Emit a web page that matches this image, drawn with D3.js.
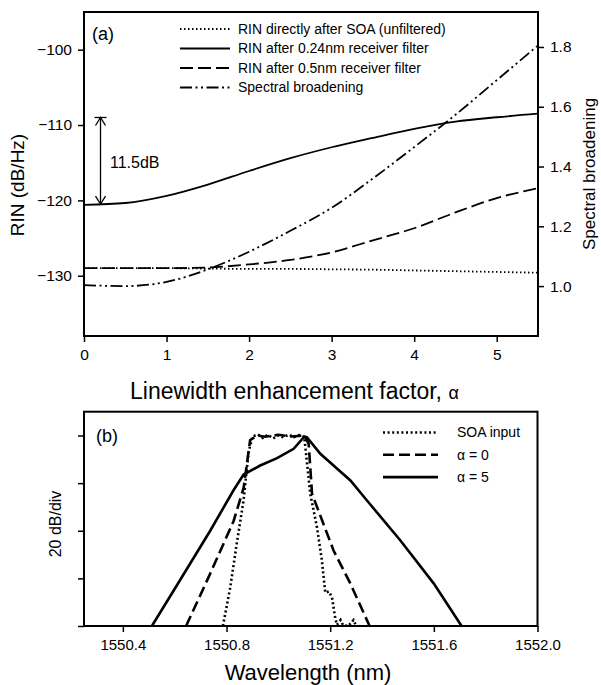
<!DOCTYPE html>
<html>
<head>
<meta charset="utf-8">
<script src="https://cdn.jsdelivr.net/npm/d3@7"></script>
<style>
  body { margin: 0; background: #fff; }
  svg { font-family: "Liberation Sans", Arial, sans-serif; }
</style>
</head>
<body>
<div id="chart"></div>
<script>
// panel (a): RIN vs linewidth enhancement factor
const alpha = [0, 0.5, 1, 1.5, 2, 2.5, 3, 3.5, 4, 4.5, 5, 5.5];
const rinUnfiltered = [-129.0, -129.0, -129.0, -129.05, -129.1, -129.1, -129.15, -129.2, -129.3, -129.4, -129.5, -129.6];
const rin024 = [-120.6, -120.35, -119.4, -117.9, -116.1, -114.4, -112.95, -111.7, -110.5, -109.55, -108.97, -108.5];
const rin05 = [-129.0, -129.0, -129.0, -128.9, -128.5, -127.9, -126.9, -125.3, -123.7, -121.6, -119.7, -118.4];
const broadening = [1.003, 1.0, 1.014, 1.056, 1.115, 1.185, 1.262, 1.36, 1.465, 1.573, 1.689, 1.805];

const xTicksA = [0, 1, 2, 3, 4, 5];
const rinTicks = [-130, -120, -110, -100];
const brTicks = [1.0, 1.2, 1.4, 1.6, 1.8];
const legendA = ["RIN directly after SOA (unfiltered)", "RIN after 0.24nm receiver filter", "RIN after 0.5nm receiver filter", "Spectral broadening"];

// 11.5dB annotation (alpha, rin from, rin to)
const gapAlpha = 0.2, gapFrom = -120.5, gapTo = -109;

// panel (b): spectra
const wlInput = [1550.786, 1550.814, 1550.84, 1550.866, 1550.885, 1550.90, 1550.92, 1550.94, 1550.96, 1550.98, 1551.00, 1551.02, 1551.04, 1551.06, 1551.08, 1551.10, 1551.123, 1551.149, 1551.168, 1551.181, 1551.195, 1551.207, 1551.22, 1551.226, 1551.24, 1551.25, 1551.27, 1551.29, 1551.30];
const dbInput = [0, 16, 35, 53, 73, 79.5, 80.5, 79, 80.3, 78.8, 80, 79.2, 80.4, 79.3, 80.2, 79.5, 55.5, 41.5, 27.5, 14, 14.5, 12, 3, 0.5, 2.5, 0.3, 0, 2.5, 0];
const wlA0 = [1550.644, 1550.737, 1550.827, 1550.866, 1550.891, 1550.917, 1550.95, 1551.0, 1551.05, 1551.10, 1551.117, 1551.13, 1551.213, 1551.278, 1551.352];
const dbA0 = [0, 22, 44, 58, 78, 80, 79.5, 80.3, 79.6, 80, 76.5, 55.5, 31.7, 17.8, 0];
const wlA5 = [1550.512, 1550.608, 1550.737, 1550.827, 1550.866, 1550.93, 1550.995, 1551.059, 1551.10, 1551.11, 1551.162, 1551.213, 1551.278, 1551.342, 1551.471, 1551.60, 1551.707];
const dbA5 = [0, 17, 40, 57, 63.6, 67.4, 70.5, 74.4, 79.5, 79.3, 72.3, 67.4, 61.1, 52.7, 35.9, 17.8, 0];

const wlTicks = [1550.4, 1550.8, 1551.2, 1551.6, 1552.0];
const dbTicks = [0, 20, 40, 60, 80];
const legendB = ["SOA input", "\u03b1 = 0", "\u03b1 = 5"];

const width = 601, height = 685;
const svg = d3.select("#chart").append("svg").attr("width", width).attr("height", height);

// ---------- panel (a) ----------
const a = {left: 84, right: 538, top: 12, bottom: 336};
const xA = d3.scaleLinear().domain([0, 5.5]).range([a.left, a.right]);
const yRin = d3.scaleLinear().domain([-138, -95]).range([a.bottom, a.top]);
const yBr = d3.scaleLinear().domain([0.833, 1.917]).range([a.bottom, a.top]);

function styleAxis(g, size) {
    g.select(".domain").remove();
    g.selectAll("line").attr("stroke", "#000").attr("stroke-width", 1.5);
    g.selectAll("text").attr("font-size", size).attr("fill", "#000");
}

svg.append("g").attr("transform", `translate(0,${a.bottom})`)
    .call(d3.axisBottom(xA).tickValues(xTicksA).tickFormat(d3.format("d")).tickSize(6).tickPadding(7))
    .call(g => styleAxis(g, 15.5));
svg.append("g").attr("transform", `translate(${a.left},0)`)
    .call(d3.axisLeft(yRin).tickValues(rinTicks).tickSize(6).tickPadding(6))
    .call(g => styleAxis(g, 15.5));
svg.append("g").attr("transform", `translate(${a.right},0)`)
    .call(d3.axisRight(yBr).tickValues(brTicks).tickFormat(d3.format(".1f")).tickSize(6).tickPadding(6))
    .call(g => styleAxis(g, 15.5));

svg.append("rect").attr("x", a.left).attr("y", a.top).attr("width", a.right - a.left).attr("height", a.bottom - a.top)
    .attr("fill", "none").attr("stroke", "#000").attr("stroke-width", 2);

const dashA = ["1.5,2.5", null, "13,5", "12,3.5,2,3.5,2,3.5"];
const seriesA = [
    {vals: rinUnfiltered, y: yRin},
    {vals: rin024, y: yRin},
    {vals: rin05, y: yRin},
    {vals: broadening, y: yBr}
];
seriesA.forEach((s, i) => {
    const line = d3.line().x((d, j) => xA(alpha[j])).y(d => s.y(d)).curve(d3.curveMonotoneX);
    svg.append("path").datum(s.vals).attr("d", line)
        .attr("fill", "none").attr("stroke", "#000").attr("stroke-width", 1.8)
        .attr("stroke-dasharray", dashA[i]);
});

// legend (a)
legendA.forEach((t, i) => {
    const ly = 29 + i * 19.5;
    svg.append("line").attr("x1", 180).attr("x2", 230).attr("y1", ly).attr("y2", ly)
        .attr("stroke", "#000").attr("stroke-width", 1.8).attr("stroke-dasharray", dashA[i]);
    svg.append("text").attr("x", 238).attr("y", ly).attr("dy", "0.35em").attr("font-size", 14).text(t);
});

svg.append("text").attr("x", 92).attr("y", 40).attr("font-size", 18).text("(a)");

// 11.5dB arrow
const ax = xA(gapAlpha), ay1 = yRin(gapTo), ay2 = yRin(gapFrom);
svg.append("line").attr("x1", ax).attr("x2", ax).attr("y1", ay1).attr("y2", ay2).attr("stroke", "#000").attr("stroke-width", 1.3);
svg.append("line").attr("x1", ax - 6).attr("x2", ax + 6).attr("y1", ay1).attr("y2", ay1).attr("stroke", "#000").attr("stroke-width", 1.3);
svg.append("path").attr("d", `M${ax - 5},${ay1 + 8}L${ax},${ay1}L${ax + 5},${ay1 + 8}`).attr("fill", "none").attr("stroke", "#000").attr("stroke-width", 1.3);
svg.append("path").attr("d", `M${ax - 5},${ay2 - 8}L${ax},${ay2}L${ax + 5},${ay2 - 8}`).attr("fill", "none").attr("stroke", "#000").attr("stroke-width", 1.3);
svg.append("text").attr("x", 110).attr("y", 168).attr("font-size", 16).text("11.5dB");

// axis titles (a)
svg.append("text").attr("transform", "translate(24,185) rotate(-90)").attr("text-anchor", "middle")
    .attr("font-size", 19).text("RIN (dB/Hz)");
svg.append("text").attr("transform", "translate(595,174) rotate(-90)").attr("text-anchor", "middle")
    .attr("font-size", 17).text("Spectral broadening");
const xt = svg.append("text").attr("x", 130).attr("y", 399).attr("font-size", 23);
xt.append("tspan").text("Linewidth enhancement factor, ");
xt.append("tspan").attr("font-size", 18).text("\u03b1");

// ---------- panel (b) ----------
const b = {left: 84, right: 537.5, top: 411.7, bottom: 626};
const xB = d3.scaleLinear().domain([1550.25, 1552.0]).range([b.left, b.right]);
const yB = d3.scaleLinear().domain([0, 90]).range([b.bottom, b.top]);

svg.append("g").attr("transform", `translate(0,${b.bottom})`)
    .call(d3.axisBottom(xB).tickValues(wlTicks).tickFormat(d3.format(".1f")).tickSize(6).tickPadding(7))
    .call(g => styleAxis(g, 15));
svg.append("g").attr("transform", `translate(${b.left},0)`)
    .call(d3.axisLeft(yB).tickValues(dbTicks).tickFormat("").tickSize(6))
    .call(g => styleAxis(g, 15));

svg.append("rect").attr("x", b.left).attr("y", b.top).attr("width", b.right - b.left).attr("height", b.bottom - b.top)
    .attr("fill", "none").attr("stroke", "#000").attr("stroke-width", 2);

const dashB = ["2,2.6", "11,5", null];
const seriesB = [
    {wl: wlInput, db: dbInput},
    {wl: wlA0, db: dbA0},
    {wl: wlA5, db: dbA5}
];
seriesB.forEach((s, i) => {
    const line = d3.line().x((d, j) => xB(s.wl[j])).y(d => yB(d));
    svg.append("path").datum(s.db).attr("d", line)
        .attr("fill", "none").attr("stroke", "#000").attr("stroke-width", 2.6)
        .attr("stroke-dasharray", dashB[i]);
});

legendB.forEach((t, i) => {
    const ly = 432.5 + i * 22.3;
    svg.append("line").attr("x1", 383).attr("x2", 438).attr("y1", ly).attr("y2", ly)
        .attr("stroke", "#000").attr("stroke-width", 2.6).attr("stroke-dasharray", dashB[i]);
    svg.append("text").attr("x", 457).attr("y", ly).attr("dy", "0.35em").attr("font-size", 14).text(t);
});

svg.append("text").attr("x", 96).attr("y", 442).attr("font-size", 18).text("(b)");

svg.append("text").attr("transform", "translate(61,524) rotate(-90)").attr("text-anchor", "middle")
    .attr("font-size", 16).text("20 dB/div");
svg.append("text").attr("x", 308).attr("y", 680).attr("text-anchor", "middle")
    .attr("font-size", 22).text("Wavelength (nm)");
</script>
</body>
</html>
